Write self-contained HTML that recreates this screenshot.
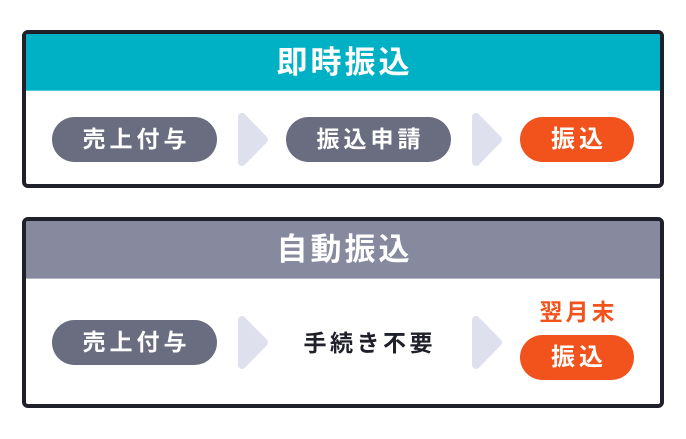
<!DOCTYPE html>
<html><head><meta charset="utf-8"><style>
*{margin:0;padding:0;box-sizing:border-box}
body{width:686px;height:439px;background:#fff;position:relative;overflow:hidden;font-family:"Liberation Sans","Noto Sans CJK JP",sans-serif;font-weight:700}
.box{position:absolute;left:22px;width:642px;border:4px solid #1f2029;border-radius:6px;overflow:hidden;background:#fff}
.hd{position:absolute;left:0;top:0;right:0;height:57px;color:#fff;font-size:31px;letter-spacing:3px;text-indent:3px;display:flex;align-items:center;justify-content:center;line-height:1}
.t{position:absolute;display:flex;align-items:center;justify-content:center;font-size:23px;letter-spacing:4px;text-indent:4px;line-height:1;white-space:nowrap}
.pill{border-radius:23px;color:#fff}
.g{background:#6a6d80}
.o{background:#f2521b}
svg{position:absolute;left:0;top:0}
</style></head><body>
<div class="box" style="top:30px;height:158px">
  <div class="hd" style="background:#00b0c5;border-bottom:1px solid #4cc8d6">即時振込</div>
</div>
<div class="box" style="top:217px;height:191px">
  <div class="hd" style="background:#878a9e;height:58px;border-bottom:1px solid #b3b5c3">自動振込</div>
</div>
<svg width="686" height="439">
  <g fill="#dfe0ee" stroke="#dfe0ee" stroke-width="8" stroke-linejoin="round">
    <polygon points="242,117 264,139.5 242,162"/>
    <polygon points="476,117 498,139.5 476,162"/>
    <polygon points="242,320 264,342.5 242,365"/>
    <polygon points="476,320 498,342.5 476,365"/>
  </g>
</svg>
<div class="t pill g" style="left:52px;top:117px;width:165px;height:45px">売上付与</div>
<div class="t pill g" style="left:286px;top:117px;width:165px;height:45px">振込申請</div>
<div class="t pill o" style="left:520px;top:117px;width:114px;height:45px;font-size:24px">振込</div>
<div class="t pill g" style="left:52px;top:320px;width:165px;height:45px">売上付与</div>
<div class="t" style="left:290px;top:330px;width:156px;height:26px;color:#1f2029;letter-spacing:3.5px;text-indent:3.5px">手続き不要</div>
<div class="t" style="left:520px;top:300px;width:114px;height:25px;color:#f2521b;letter-spacing:3px;text-indent:3px">翌月末</div>
<div class="t pill o" style="left:520px;top:335px;width:114px;height:45px;font-size:24px">振込</div>
</body></html>
